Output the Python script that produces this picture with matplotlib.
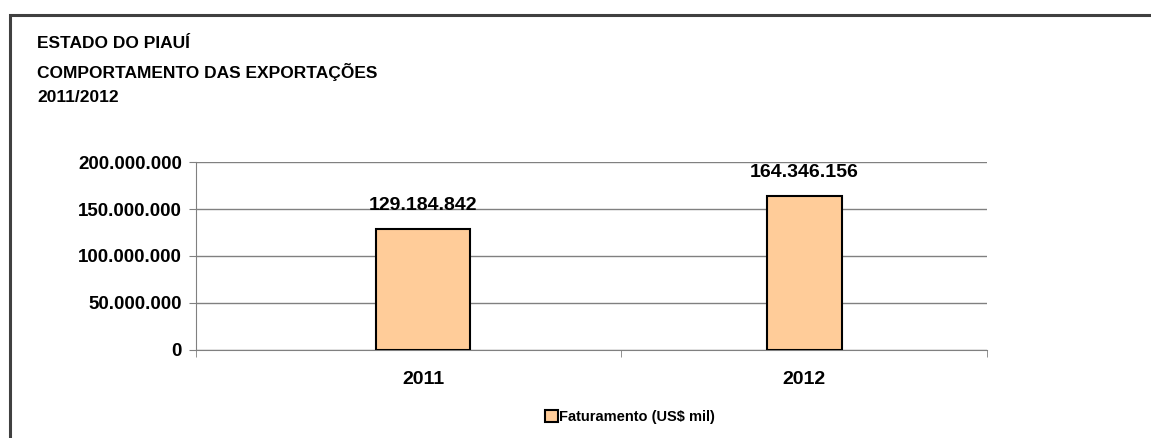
import matplotlib
matplotlib.use('Agg')
import matplotlib.pyplot as plt
from matplotlib.patches import Rectangle

# data
years = ['2011', '2012']
faturamento = [129184842, 164346156]
yticks = [0, 50000000, 100000000, 150000000, 200000000]
title_lines = ['ESTADO DO PIAUÍ', 'COMPORTAMENTO DAS EXPORTAÇÕES', '2011/2012']
series_name = 'Faturamento (US$ mil)'


def fmt(v):
    return f'{v:,.0f}'.replace(',', '.')


plt.rcParams['font.family'] = ['Liberation Sans', 'DejaVu Sans']
plt.rcParams['font.weight'] = 'bold'

fig = plt.figure(figsize=(11.51, 4.38), dpi=100)
W, H = 1151, 438

# outer chart frame (runs off the right and bottom edges)
fig.patches.append(Rectangle((10 / W, -0.05), 1.2, (H - 15) / H + 0.05, transform=fig.transFigure,
                             fill=False, edgecolor='#404040', linewidth=2.2, zorder=0))

ys = [44, 72, 98]
for line, y in zip(title_lines, ys):
    fig.text(37 / W, 1 - y / H, line, fontsize=12.5, fontweight='bold', va='center', ha='left')

ax = fig.add_axes([196 / W, 88.3 / H, 791 / W, 187.4 / H])
x = list(range(len(years)))
bars = ax.bar(x, faturamento, width=[0.245, 0.197], color='#FFCC99', edgecolor='black',
              linewidth=1.5, zorder=3, label=series_name)
ax.set_xlim(-0.596, 1.48)
ax.set_ylim(0, 200000000)

for b, v in zip(bars, faturamento):
    ax.annotate(fmt(v), (b.get_x() + b.get_width() / 2, v), xytext=(0, 17), textcoords='offset points',
                ha='center', va='center', fontsize=14, fontweight='bold')

ax.set_yticks(yticks)
ax.set_yticklabels([fmt(t) for t in yticks], fontsize=13.5, fontweight='bold')
ax.set_xticks(x)
ax.set_xticklabels(years, fontsize=14, fontweight='bold')
ax.tick_params(axis='x', length=0, pad=15)
ax.set_xticks([-0.596, 0.52, 1.48], minor=True)
ax.tick_params(axis='x', which='minor', length=5, color='#808080')
ax.tick_params(axis='y', length=5, color='#808080', pad=5)

ax.grid(axis='y', color='#808080', linewidth=1, zorder=0)
for s in ['top', 'right']:
    ax.spines[s].set_visible(False)
ax.spines['left'].set_color('#808080')
ax.spines['bottom'].set_color('#808080')

leg = fig.legend(handles=[bars], labels=[series_name], loc='center left',
                 bbox_to_anchor=(532 / W, 1 - 417 / H), frameon=False, handlelength=0.9,
                 handleheight=0.9, handletextpad=0.05, prop={'size': 10.5, 'weight': 'bold'})

fig.savefig('out.png', dpi=100)
